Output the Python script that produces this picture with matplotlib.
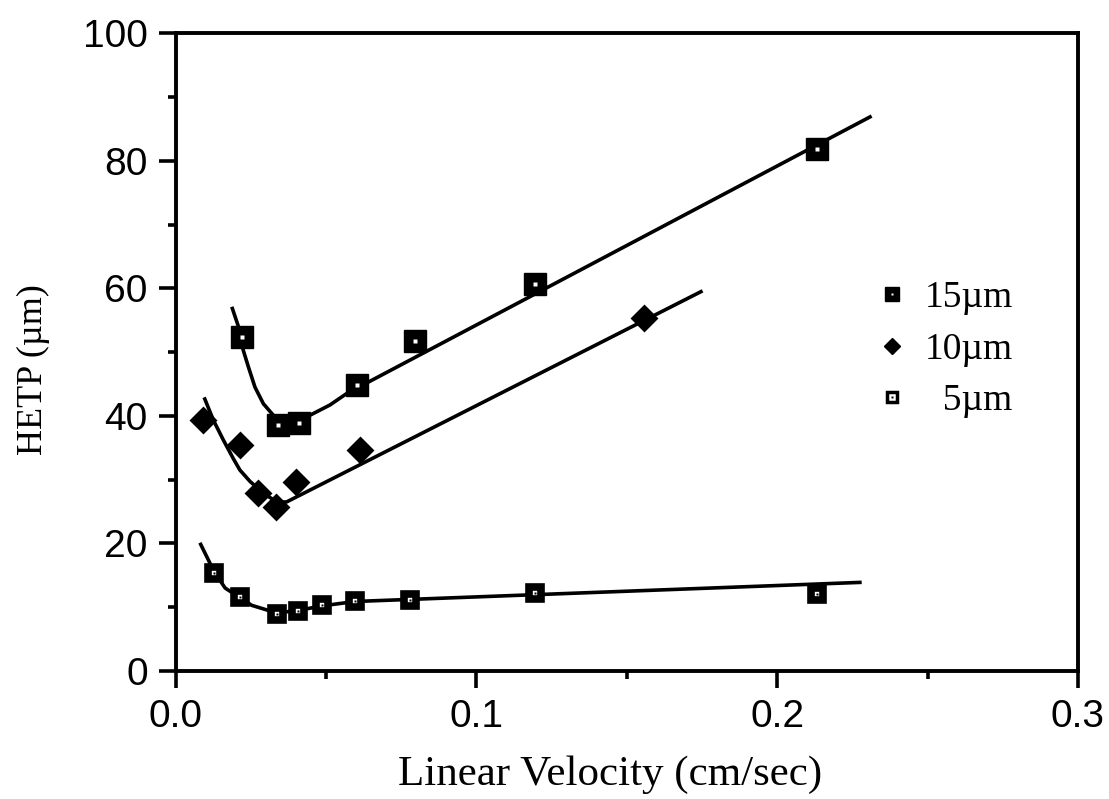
import matplotlib
matplotlib.use("Agg")
import matplotlib.pyplot as plt
from matplotlib.lines import Line2D
from matplotlib.legend_handler import HandlerTuple
from matplotlib.ticker import MultipleLocator

# Measured HETP (um) vs linear velocity (cm/sec) for three particle sizes
u_15 = [0.0220, 0.0342, 0.0411, 0.0602, 0.0796, 0.1194, 0.2131]
h_15 = [52.3, 38.6, 38.9, 44.8, 51.7, 60.7, 81.8]

u_10 = [0.0091, 0.0214, 0.0274, 0.0334, 0.0400, 0.0613, 0.1557]
h_10 = [39.3, 35.4, 27.9, 25.7, 29.6, 34.6, 55.3]

u_5 = [0.0129, 0.0214, 0.0336, 0.0408, 0.0486, 0.0597, 0.0780, 0.1194, 0.2131]
h_5 = [15.4, 11.6, 9.0, 9.4, 10.3, 11.0, 11.2, 12.2, 12.1]

# Trend curves through each data set
fit_u_15 = [0.0187, 0.0209, 0.0225, 0.0242, 0.0264, 0.0292, 0.0325, 0.0358,
            0.0414, 0.0447, 0.0513, 0.0569, 0.2314]
fit_h_15 = [57.1, 54.0, 50.3, 47.7, 44.5, 41.9, 40.1, 39.1,
            39.1, 40.1, 41.7, 43.5, 87.0]

fit_u_10 = [0.0095, 0.0126, 0.0159, 0.0192, 0.0214, 0.0248, 0.0292, 0.0336,
            0.0369, 0.1752]
fit_h_10 = [42.9, 39.3, 36.2, 33.3, 31.5, 29.7, 27.9, 26.5, 26.5, 59.6]

fit_u_5 = [0.0081, 0.0129, 0.0165, 0.0214, 0.0253, 0.0336, 0.0408, 0.0486,
           0.0597, 0.2281]
fit_h_5 = [20.1, 15.5, 13.0, 11.5, 10.3, 9.1, 9.5, 10.2, 10.9, 13.9]

legend_labels = ["15\u00b5m", "10\u00b5m", "  5\u00b5m"]

fig = plt.figure(figsize=(11.09, 7.99), dpi=100)
ax = fig.add_axes([0.1583, 0.1602, 0.9720 - 0.1583, 0.9585 - 0.1602])

line_kw = dict(color="black", lw=2.6, solid_capstyle="butt", zorder=2)
ax.plot(fit_u_15, fit_h_15, **line_kw)
ax.plot(fit_u_10, fit_h_10, **line_kw)
ax.plot(fit_u_5, fit_h_5, **line_kw)

# 15 um: solid square with a small light centre
ax.plot(u_15, h_15, ls="none", marker="s", ms=15.5, mfc="black", mec="black", zorder=3)
ax.plot(u_15, h_15, ls="none", marker="s", ms=3, mfc="white", mec="none", zorder=4)
# 10 um: solid diamond
ax.plot(u_10, h_10, ls="none", marker="D", ms=12.5, mfc="black", mec="black",
        mew=2.0, zorder=3)
# 5 um: heavy open square with a centre dot
ax.plot(u_5, h_5, ls="none", marker="s", ms=9, mfc="white", mec="black", mew=5.5,
        zorder=3)
ax.plot(u_5, h_5, ls="none", marker="s", ms=1.6, mfc="black", mec="none", zorder=4)

ax.set_xlim(0, 0.3)
ax.set_ylim(0, 100)
ax.xaxis.set_minor_locator(MultipleLocator(0.05))
ax.yaxis.set_minor_locator(MultipleLocator(10))
ax.set_xticks([0, 0.1, 0.2, 0.3])
ax.set_xticklabels(["0.0", "0.1", "0.2", "0.3"])
ax.set_yticks([0, 20, 40, 60, 80, 100])
ax.set_yticklabels(["0", "20", "40", "60", "80", "100"])

for s in ax.spines.values():
    s.set_linewidth(2.8)
ax.tick_params(which="major", direction="out", length=12, width=2.6,
               labelsize=28, pad=8)
ax.tick_params(which="minor", direction="out", length=5.5, width=2.6)
for lab in ax.get_xticklabels() + ax.get_yticklabels():
    lab.set_family("Liberation Sans")

ax.set_xlabel("Linear Velocity (cm/sec)", family="Liberation Serif",
              fontsize=31)
ax.set_ylabel("HETP (\u00b5m)", family="Liberation Serif", fontsize=26)
ax.xaxis.set_label_coords(0.481, -0.133)
ax.yaxis.set_label_coords(-0.139, 0.473)

# Legend handles
h15 = (Line2D([], [], ls="none", marker="s", ms=10.5, mfc="black", mec="black"),
       Line2D([], [], ls="none", marker="s", ms=2.0, mfc="white", mec="none"))
h10 = Line2D([], [], ls="none", marker="D", ms=8.5, mfc="black", mec="black")
h5 = (Line2D([], [], ls="none", marker="s", ms=7, mfc="white", mec="black", mew=2.5),
      Line2D([], [], ls="none", marker="s", ms=1.6, mfc="black", mec="none"))
leg = ax.legend([h15, h10, h5], legend_labels,
                handler_map={tuple: HandlerTuple(ndivide=1, pad=0)},
                loc="upper left", bbox_to_anchor=(0.757, 0.635),
                frameon=False, handlelength=1.0, handletextpad=0.35,
                labelspacing=0.45, borderaxespad=0,
                prop=dict(family="Liberation Serif", size=27))

fig.savefig("out.png", dpi=100)
